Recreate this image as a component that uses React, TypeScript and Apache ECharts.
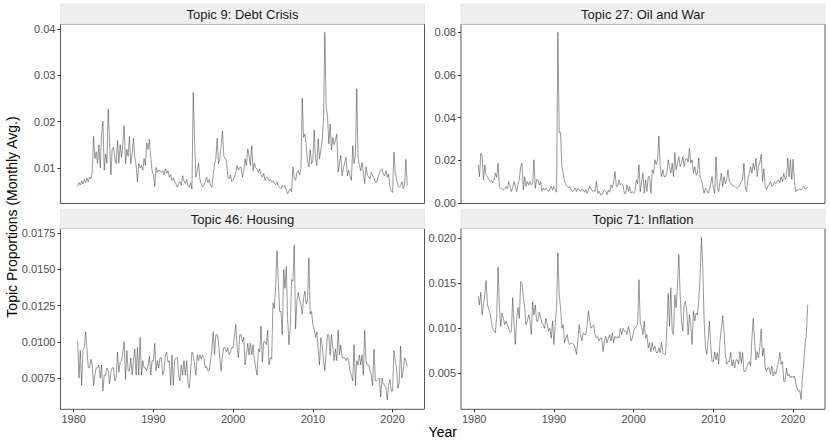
import React, { useEffect, useRef } from "react";
import * as echarts from "echarts";

// time index: bi-monthly steps starting mid-1980
const START_YEAR = 1980.5;
const STEPS_PER_YEAR = 6;

const TOPIC9_DEBT = [
  0.0060, 0.0068, 0.0063,
  0.0072, 0.0065, 0.0075, 0.0068, 0.0078, 0.0070,
  0.0080, 0.0076, 0.0092, 0.0168, 0.0120, 0.0135,
  0.0110, 0.0150, 0.0100, 0.0172, 0.0201, 0.0095,
  0.0130, 0.0110, 0.0227, 0.0160, 0.0085, 0.0140,
  0.0145, 0.0123, 0.0109, 0.0159, 0.0110, 0.0150,
  0.0123, 0.0150, 0.0191, 0.0109, 0.0140, 0.0125,
  0.0168, 0.0109, 0.0130, 0.0164, 0.0123, 0.0105,
  0.0070, 0.0109, 0.0100, 0.0105, 0.0095, 0.0120,
  0.0105, 0.0154, 0.0140, 0.0162, 0.0123, 0.0094,
  0.0085, 0.0060, 0.0101, 0.0090, 0.0095, 0.0094,
  0.0090, 0.0094, 0.0085, 0.0098, 0.0088, 0.0094,
  0.0080, 0.0085, 0.0073, 0.0078, 0.0070, 0.0065,
  0.0058, 0.0066, 0.0070, 0.0062, 0.0083, 0.0072,
  0.0066, 0.0075, 0.0062, 0.0058, 0.0068, 0.0054,
  0.0263, 0.0159, 0.0080, 0.0095, 0.0110, 0.0075,
  0.0066, 0.0060, 0.0062, 0.0070, 0.0080, 0.0068,
  0.0075, 0.0062, 0.0058, 0.0085, 0.0109, 0.0120,
  0.0164, 0.0109, 0.0120, 0.0148, 0.0180, 0.0125,
  0.0120, 0.0115, 0.0080, 0.0076, 0.0085, 0.0070,
  0.0073, 0.0080, 0.0090, 0.0105, 0.0095, 0.0101,
  0.0101, 0.0080, 0.0095, 0.0120, 0.0105, 0.0141,
  0.0125, 0.0105, 0.0148, 0.0094, 0.0110, 0.0100,
  0.0098, 0.0090, 0.0098, 0.0085, 0.0080, 0.0088,
  0.0073, 0.0080, 0.0078, 0.0072, 0.0075, 0.0069,
  0.0072, 0.0066, 0.0064, 0.0070, 0.0060, 0.0058,
  0.0055, 0.0062, 0.0058, 0.0062, 0.0052, 0.0044,
  0.0050, 0.0055, 0.0048, 0.0102, 0.0078, 0.0073,
  0.0090, 0.0094, 0.0085, 0.0098, 0.0251, 0.0166,
  0.0173, 0.0150, 0.0116, 0.0102, 0.0140, 0.0109,
  0.0116, 0.0182, 0.0120, 0.0105, 0.0163, 0.0120,
  0.0138, 0.0160, 0.0202, 0.0393, 0.0231, 0.0213,
  0.0152, 0.0195, 0.0138, 0.0166, 0.0150, 0.0160,
  0.0173, 0.0091, 0.0110, 0.0127, 0.0083, 0.0100,
  0.0112, 0.0123, 0.0083, 0.0095, 0.0083, 0.0073,
  0.0148, 0.0109, 0.0125, 0.0271, 0.0123, 0.0105,
  0.0094, 0.0112, 0.0090, 0.0066, 0.0102, 0.0085,
  0.0080, 0.0076, 0.0090, 0.0083, 0.0078, 0.0069,
  0.0069, 0.0080, 0.0087, 0.0095, 0.0098, 0.0085,
  0.0083, 0.0094, 0.0080, 0.0087, 0.0058, 0.0050,
  0.0047, 0.0134, 0.0090, 0.0076, 0.0062, 0.0058,
  0.0062, 0.0070, 0.0055, 0.0065, 0.0118, 0.0062,
];

const TOPIC27_OIL = [
  0.0178, 0.0123, 0.0233,
  0.0217, 0.0108, 0.0178, 0.0131, 0.0123, 0.0110,
  0.0100, 0.0105, 0.0095, 0.0110, 0.0139, 0.0120,
  0.0186, 0.0077, 0.0069, 0.0065, 0.0061, 0.0070,
  0.0077, 0.0065, 0.0100, 0.0080, 0.0053, 0.0070,
  0.0100, 0.0077, 0.0053, 0.0090, 0.0110, 0.0170,
  0.0186, 0.0061, 0.0123, 0.0077, 0.0100, 0.0084,
  0.0100, 0.0084, 0.0090, 0.0202, 0.0069, 0.0108,
  0.0108, 0.0084, 0.0100, 0.0053, 0.0069, 0.0060,
  0.0069, 0.0060, 0.0053, 0.0065, 0.0077, 0.0060,
  0.0077, 0.0060, 0.0050, 0.0800, 0.0330, 0.0330,
  0.0170, 0.0140, 0.0100, 0.0090, 0.0077, 0.0070,
  0.0077, 0.0061, 0.0053, 0.0060, 0.0069, 0.0053,
  0.0069, 0.0060, 0.0053, 0.0065, 0.0061, 0.0050,
  0.0061, 0.0045, 0.0060, 0.0077, 0.0065, 0.0053,
  0.0060, 0.0053, 0.0100, 0.0045, 0.0055, 0.0038,
  0.0038, 0.0050, 0.0061, 0.0055, 0.0038, 0.0060,
  0.0050, 0.0084, 0.0070, 0.0100, 0.0147, 0.0077,
  0.0077, 0.0108, 0.0084, 0.0090, 0.0084, 0.0045,
  0.0045, 0.0084, 0.0053, 0.0077, 0.0045, 0.0053,
  0.0045, 0.0053, 0.0108, 0.0090, 0.0178, 0.0053,
  0.0100, 0.0139, 0.0045, 0.0108, 0.0053, 0.0123,
  0.0123, 0.0045, 0.0155, 0.0139, 0.0202, 0.0180,
  0.0202, 0.0314, 0.0170, 0.0123, 0.0155, 0.0123,
  0.0123, 0.0139, 0.0202, 0.0170, 0.0139, 0.0186,
  0.0123, 0.0236, 0.0155, 0.0186, 0.0217, 0.0170,
  0.0186, 0.0217, 0.0170, 0.0202, 0.0210, 0.0190,
  0.0256, 0.0186, 0.0202, 0.0139, 0.0170, 0.0130,
  0.0140, 0.0210, 0.0120, 0.0108, 0.0077, 0.0045,
  0.0069, 0.0060, 0.0045, 0.0061, 0.0090, 0.0123,
  0.0069, 0.0045, 0.0217, 0.0077, 0.0053, 0.0100,
  0.0139, 0.0077, 0.0123, 0.0090, 0.0110, 0.0155,
  0.0100, 0.0095, 0.0084, 0.0080, 0.0077, 0.0075,
  0.0069, 0.0075, 0.0085, 0.0100, 0.0110, 0.0186,
  0.0069, 0.0053, 0.0110, 0.0139, 0.0170, 0.0139,
  0.0186, 0.0155, 0.0210, 0.0123, 0.0170, 0.0190,
  0.0228, 0.0100, 0.0160, 0.0077, 0.0061, 0.0077,
  0.0084, 0.0100, 0.0077, 0.0084, 0.0100, 0.0090,
  0.0100, 0.0108, 0.0095, 0.0123, 0.0100, 0.0139,
  0.0110, 0.0120, 0.0210, 0.0123, 0.0202, 0.0110,
  0.0205, 0.0100, 0.0053, 0.0061, 0.0060, 0.0065,
  0.0061, 0.0070, 0.0077, 0.0065, 0.0069, 0.0072,
];

const TOPIC46_HOUSING = [
  0.0101, 0.0075, 0.0094,
  0.0070, 0.0095, 0.0096, 0.0107, 0.0095, 0.0082,
  0.0082, 0.0088, 0.0084, 0.0070, 0.0077, 0.0082,
  0.0082, 0.0084, 0.0075, 0.0084, 0.0066, 0.0077,
  0.0077, 0.0082, 0.0080, 0.0071, 0.0079, 0.0082,
  0.0082, 0.0073, 0.0075, 0.0093, 0.0079, 0.0086,
  0.0087, 0.0093, 0.0100, 0.0074, 0.0094, 0.0080,
  0.0080, 0.0089, 0.0077, 0.0087, 0.0095, 0.0077,
  0.0096, 0.0077, 0.0103, 0.0077, 0.0087, 0.0082,
  0.0082, 0.0080, 0.0084, 0.0090, 0.0077, 0.0087,
  0.0087, 0.0099, 0.0080, 0.0087, 0.0082, 0.0089,
  0.0089, 0.0077, 0.0080, 0.0091, 0.0093, 0.0086,
  0.0087, 0.0070, 0.0091, 0.0070, 0.0087, 0.0089,
  0.0089, 0.0077, 0.0073, 0.0084, 0.0077, 0.0087,
  0.0077, 0.0087, 0.0072, 0.0068, 0.0080, 0.0093,
  0.0091, 0.0084, 0.0077, 0.0091, 0.0087, 0.0091,
  0.0088, 0.0091, 0.0089, 0.0082, 0.0083, 0.0080,
  0.0080, 0.0087, 0.0095, 0.0107, 0.0091, 0.0105,
  0.0105, 0.0100, 0.0088, 0.0080, 0.0091, 0.0096,
  0.0096, 0.0093, 0.0096, 0.0091, 0.0093, 0.0096,
  0.0096, 0.0104, 0.0112, 0.0096, 0.0089, 0.0105,
  0.0105, 0.0100, 0.0103, 0.0084, 0.0091, 0.0099,
  0.0091, 0.0099, 0.0091, 0.0098, 0.0088, 0.0082,
  0.0077, 0.0095, 0.0093, 0.0111, 0.0086, 0.0100,
  0.0100, 0.0098, 0.0108, 0.0084, 0.0089, 0.0088,
  0.0127, 0.0123, 0.0139, 0.0163, 0.0142, 0.0121,
  0.0121, 0.0105, 0.0150, 0.0137, 0.0152, 0.0116,
  0.0098, 0.0110, 0.0143, 0.0142, 0.0167, 0.0109,
  0.0128, 0.0134, 0.0129, 0.0126, 0.0119, 0.0130,
  0.0135, 0.0126, 0.0129, 0.0158, 0.0119, 0.0121,
  0.0112, 0.0109, 0.0103, 0.0107, 0.0095, 0.0084,
  0.0103, 0.0098, 0.0087, 0.0080, 0.0093, 0.0105,
  0.0105, 0.0091, 0.0105, 0.0096, 0.0087, 0.0095,
  0.0087, 0.0108, 0.0091, 0.0098, 0.0089, 0.0089,
  0.0089, 0.0087, 0.0089, 0.0087, 0.0079, 0.0077,
  0.0073, 0.0098, 0.0070, 0.0087, 0.0084, 0.0091,
  0.0084, 0.0091, 0.0077, 0.0108, 0.0087, 0.0084,
  0.0084, 0.0080, 0.0077, 0.0070, 0.0095, 0.0073,
  0.0073, 0.0074, 0.0075, 0.0062, 0.0075, 0.0071,
  0.0070, 0.0068, 0.0060, 0.0070, 0.0074, 0.0066,
  0.0066, 0.0094, 0.0087, 0.0082, 0.0068, 0.0072,
  0.0097, 0.0075, 0.0080, 0.0089, 0.0087, 0.0083,
];

const TOPIC71_INFLATION = [
  0.0136, 0.0126, 0.0140,
  0.0115, 0.0126, 0.0137, 0.0153, 0.0126, 0.0121,
  0.0117, 0.0107, 0.0100, 0.0097, 0.0095, 0.0115,
  0.0168, 0.0123, 0.0102, 0.0117, 0.0111, 0.0104,
  0.0108, 0.0104, 0.0100, 0.0095, 0.0097, 0.0134,
  0.0104, 0.0082, 0.0111, 0.0123, 0.0111, 0.0152,
  0.0150, 0.0134, 0.0123, 0.0104, 0.0108, 0.0115,
  0.0108, 0.0093, 0.0130, 0.0115, 0.0126, 0.0108,
  0.0108, 0.0118, 0.0112, 0.0106, 0.0104, 0.0100,
  0.0111, 0.0104, 0.0097, 0.0100, 0.0089, 0.0108,
  0.0082, 0.0104, 0.0123, 0.0184, 0.0137, 0.0123,
  0.0100, 0.0104, 0.0084, 0.0089, 0.0093, 0.0084,
  0.0082, 0.0084, 0.0083, 0.0082, 0.0078, 0.0071,
  0.0086, 0.0104, 0.0093, 0.0086, 0.0095, 0.0093,
  0.0093, 0.0104, 0.0119, 0.0108, 0.0100, 0.0102,
  0.0104, 0.0093, 0.0089, 0.0091, 0.0086, 0.0089,
  0.0089, 0.0074, 0.0086, 0.0091, 0.0084, 0.0089,
  0.0093, 0.0086, 0.0095, 0.0084, 0.0091, 0.0089,
  0.0091, 0.0089, 0.0100, 0.0093, 0.0100, 0.0097,
  0.0097, 0.0093, 0.0102, 0.0097, 0.0086, 0.0089,
  0.0097, 0.0100, 0.0102, 0.0104, 0.0154, 0.0106,
  0.0102, 0.0093, 0.0108, 0.0089, 0.0093, 0.0078,
  0.0084, 0.0074, 0.0084, 0.0076, 0.0080, 0.0073,
  0.0073, 0.0078, 0.0073, 0.0084, 0.0073, 0.0071,
  0.0071, 0.0100, 0.0139, 0.0102, 0.0145, 0.0097,
  0.0093, 0.0137, 0.0123, 0.0147, 0.0182, 0.0137,
  0.0108, 0.0097, 0.0126, 0.0130, 0.0119, 0.0093,
  0.0115, 0.0102, 0.0082, 0.0119, 0.0108, 0.0117,
  0.0115, 0.0130, 0.0156, 0.0201, 0.0170, 0.0110,
  0.0080, 0.0071, 0.0086, 0.0108, 0.0082, 0.0063,
  0.0063, 0.0074, 0.0065, 0.0073, 0.0060, 0.0086,
  0.0100, 0.0114, 0.0097, 0.0071, 0.0060, 0.0063,
  0.0063, 0.0073, 0.0058, 0.0065, 0.0056, 0.0065,
  0.0065, 0.0060, 0.0074, 0.0061, 0.0073, 0.0052,
  0.0052, 0.0056, 0.0060, 0.0063, 0.0058, 0.0089,
  0.0111, 0.0086, 0.0065, 0.0074, 0.0067, 0.0080,
  0.0099, 0.0069, 0.0078, 0.0056, 0.0052, 0.0056,
  0.0056, 0.0049, 0.0058, 0.0047, 0.0052, 0.0049,
  0.0056, 0.0063, 0.0073, 0.0060, 0.0063, 0.0041,
  0.0041, 0.0056, 0.0047, 0.0049, 0.0045, 0.0047,
  0.0045, 0.0047, 0.0039, 0.0033, 0.0030, 0.0031,
  0.0021, 0.0045, 0.0062, 0.0082, 0.0095, 0.0126,
];

const PANEL_TITLES = [
  "Topic 9: Debt Crisis",
  "Topic 27: Oil and War",
  "Topic 46: Housing",
  "Topic 71: Inflation",
];
const X_TICKS = [1980, 1990, 2000, 2010, 2020];
const Y_TICKS_9 = [0.01, 0.02, 0.03, 0.04];
const Y_TICKS_27 = [0, 0.02, 0.04, 0.06, 0.08];
const Y_TICKS_46 = [0.0075, 0.01, 0.0125, 0.015, 0.0175];
const Y_TICKS_71 = [0.005, 0.01, 0.015, 0.02];
const Y_TITLE = "Topic Proportions (Monthly Avg.)";
const X_TITLE = "Year";

const FONT = "'Liberation Sans', Arial, Helvetica, sans-serif";

export default function App() {
  const ref = useRef<HTMLDivElement>(null);

  useEffect(() => {
    if (!ref.current) return;
    const chart = echarts.init(ref.current, undefined, { renderer: "svg" });

    const panels = [
      { data: TOPIC9_DEBT, ticks: Y_TICKS_9, dec: 2, min: 0.0023, max: 0.0411, left: 60.5, top: 24, height: 179.5, bottom: false },
      { data: TOPIC27_OIL, ticks: Y_TICKS_27, dec: 2, min: -0.0003, max: 0.0839, left: 461, top: 24, height: 179.5, bottom: false },
      { data: TOPIC46_HOUSING, ticks: Y_TICKS_46, dec: 4, min: 0.00534, max: 0.01783, left: 60.5, top: 228.5, height: 180.8, bottom: true },
      { data: TOPIC71_INFLATION, ticks: Y_TICKS_71, dec: 3, min: 0.001, max: 0.02109, left: 461, top: 228.5, height: 180.8, bottom: true },
    ];
    const W = 364;

    const graphic: any[] = [];
    panels.forEach((p, i) => {
      const stripTop = p.bottom ? 209.3 : 4;
      graphic.push({
        type: "rect",
        silent: true,
        shape: { x: p.left, y: stripTop, width: W, height: p.top - stripTop },
        style: { fill: "#efefef", stroke: "#e2e2e2", lineWidth: 0.8 },
      });
      graphic.push({
        type: "text",
        silent: true,
        x: p.left + W / 2,
        y: (stripTop + p.top) / 2 + 0.5,
        style: {
          text: PANEL_TITLES[i],
          font: `13px ${FONT}`,
          fill: "#1a1a1a",
          textAlign: "center",
          textVerticalAlign: "middle",
          align: "center",
          verticalAlign: "middle",
        },
      });
    });
    graphic.push({
      type: "text",
      silent: true,
      x: 12,
      y: 217,
      rotation: Math.PI / 2,
      style: {
        text: Y_TITLE,
        font: `14px ${FONT}`,
        fill: "#000",
        textAlign: "center",
        textVerticalAlign: "middle",
        align: "center",
        verticalAlign: "middle",
      },
    });
    graphic.push({
      type: "text",
      silent: true,
      x: 442.75,
      y: 432,
      style: {
        text: X_TITLE,
        font: `14px ${FONT}`,
        fill: "#000",
        textAlign: "center",
        textVerticalAlign: "middle",
        align: "center",
        verticalAlign: "middle",
      },
    });

    const option: any = {
      animation: false,
      backgroundColor: "#fff",
      grid: panels.map((p) => ({
        left: p.left,
        top: p.top,
        width: W,
        height: p.height,
        show: true,
        borderColor: "#555",
        borderWidth: 1,
        backgroundColor: "transparent",
        containLabel: false,
      })),
      xAxis: panels.map((p, i) => ({
        type: "value",
        gridIndex: i,
        min: 1978.35,
        max: 2024.0,
        axisLine: { show: false },
        splitLine: { show: false },
        axisTick: {
          show: p.bottom,
          length: 3,
          customValues: X_TICKS,
          lineStyle: { color: "#333", width: 1 },
        },
        axisLabel: {
          show: p.bottom,
          customValues: X_TICKS,
          formatter: (v: number) => String(Math.round(v)),
          color: "#4d4d4d",
          fontSize: 11,
          fontFamily: FONT,
          margin: 4,
        },
      })),
      yAxis: panels.map((p, i) => ({
        type: "value",
        gridIndex: i,
        min: p.min,
        max: p.max,
        axisLine: { show: false },
        splitLine: { show: false },
        axisTick: {
          show: true,
          length: 3,
          customValues: p.ticks,
          lineStyle: { color: "#333", width: 1 },
        },
        axisLabel: {
          customValues: p.ticks,
          formatter: (v: number) => v.toFixed(p.dec),
          color: "#4d4d4d",
          fontSize: 11,
          fontFamily: FONT,
          margin: 5,
        },
      })),
      series: panels.map((p, i) => ({
        type: "line",
        xAxisIndex: i,
        yAxisIndex: i,
        symbol: "none",
        showSymbol: false,
        silent: true,
        lineStyle: { color: "#333", width: 0.5 },
        data: p.data.map((v, k) => [START_YEAR + k / STEPS_PER_YEAR, v]),
      })),
      graphic,
    };

    chart.setOption(option);
    return () => chart.dispose();
  }, []);

  return (
    <div
      ref={ref}
      style={{ position: "absolute", left: 0, top: 0, width: 830, height: 445 }}
    />
  );
}
